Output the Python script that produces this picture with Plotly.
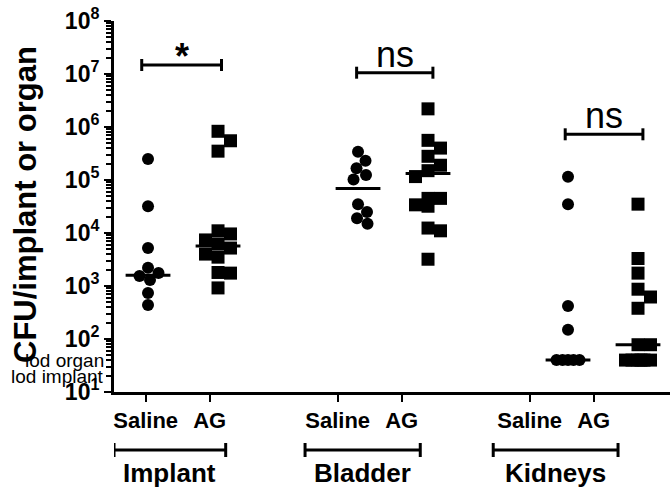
import numpy as np
import plotly.graph_objects as go

# ---------------- data ----------------
groups = ["Implant", "Bladder", "Kidneys"]
treatments = ["Saline", "AG"]

implant_saline = [250000, 32000, 5200, 2200, 1760, 1550, 1300, 740, 440]
implant_ag = [830000, 550000, 350000, 11000, 9600, 7400, 6200, 5200, 4000, 3500, 1800, 1750, 920]
bladder_saline = [340000, 230000, 166000, 124000, 102000, 35000, 25000, 19000, 15000]
bladder_ag = [2200000, 560000, 400000, 280000, 190000, 150000, 116000, 45000, 45000,
              34000, 32000, 12400, 11000, 3200]
kidneys_saline = [115000, 35000, 420, 150, 40, 40, 40, 40, 40]
kidneys_ag = [35000, 3300, 1750, 870, 620, 380, 78, 78, 40, 40, 40, 40, 40, 40]

center_lines = [1600, 5700, 69000, 132000, 40, 78]
lod_organ = 40
lod_implant = 20
significance = ["*", "ns", "ns"]
y_tick_exponents = [1, 2, 3, 4, 5, 6, 7, 8]

series = [implant_saline, implant_ag, bladder_saline, bladder_ag, kidneys_saline, kidneys_ag]

# ---------------- layout constants ----------------
W, H = 670, 491
ML, MR, MT, MB = 114, 0, 21, 99
PW, PH = W - ML - MR, H - MT - MB
XRANGE = [0.514, 8.457]          # data axis (points)
X2RANGE = [0.505, 9.192]         # category label axis
YRANGE = [1, 8]
PX_PER_X = PW / (XRANGE[1] - XRANGE[0])
PX_PER_DEC = PH / (YRANGE[1] - YRANGE[0])
positions = [1, 2, 4, 5, 7, 8]
FONT = "Arial, Liberation Sans, sans-serif"


def swarm(values, size, square, max_half=14.0):
    """Simple beeswarm: returns horizontal offsets in pixels."""
    ys = np.log10(np.asarray(values, dtype=float)) * PX_PER_DEC
    order = np.argsort(-ys, kind="stable")
    cands = sorted(np.arange(-max_half, max_half + 0.25, 0.5), key=lambda c: (abs(c), -c))
    placed = []
    offs = np.zeros(len(ys))
    for i in order:
        best_c, best_s = 0.0, -1.0
        chosen = None
        for c in cands:
            s = np.inf
            for (px, py) in placed:
                dx, dy = abs(c - px), abs(ys[i] - py)
                d = max(dx, dy) if square else np.hypot(dx, dy)
                s = min(s, d)
            if s >= size - 0.5:
                chosen = c
                break
            if s > best_s:
                best_s, best_c = s, c
        if chosen is None:
            chosen = best_c
        offs[i] = chosen
        placed.append((chosen, ys[i]))
    return offs


fig = go.Figure()

# center (median) lines
for p, m in zip(positions, center_lines):
    fig.add_trace(go.Scatter(x=[p - 0.32, p + 0.32], y=[m, m], mode="lines",
                             line=dict(color="black", width=3), showlegend=False,
                             hoverinfo="skip"))

for k, (vals, p) in enumerate(zip(series, positions)):
    square = (k % 2 == 1)
    size = 13 if square else 12
    offs = swarm(vals, size, square)
    fig.add_trace(go.Scatter(
        x=p + offs / PX_PER_X, y=vals, mode="markers",
        marker=dict(symbol="square" if square else "circle", size=size, color="black",
                    line=dict(width=0)),
        showlegend=False, name=f"{groups[k // 2]} {treatments[k % 2]}"))

# invisible trace on x2 so the axis renders
fig.add_trace(go.Scatter(x=[positions[0]], y=[10], xaxis="x2", mode="markers",
                         marker=dict(opacity=0), showlegend=False, hoverinfo="skip"))

shapes = []
annotations = []

# lod lines
for val, dash in [(lod_organ, "6px,3px,2px,3px"), (lod_implant, "3px,2px")]:
    ly = np.log10(val)
    shapes.append(dict(type="line", xref="paper", yref="y", x0=0, x1=1, y0=ly, y1=ly,
                       line=dict(color="black", width=1.5, dash=dash), layer="below"))
    shapes.append(dict(type="line", xref="paper", yref="y", x0=-7 / PW, x1=7 / PW, y0=ly, y1=ly,
                       line=dict(color="black", width=2)))
annotations.append(dict(text="lod organ", xref="paper", yref="y", x=-8 / PW, y=np.log10(lod_organ),
                        xanchor="right", yanchor="middle", showarrow=False,
                        font=dict(family=FONT, size=19, color="black")))
annotations.append(dict(text="lod implant", xref="paper", yref="y", x=-8 / PW, y=np.log10(lod_implant),
                        xanchor="right", yanchor="middle", showarrow=False,
                        font=dict(family=FONT, size=19, color="black")))

# significance brackets
sig_x = [(0.91, 2.05), (3.98, 5.07), (6.96, 8.07)]
sig_ypx = [65, 72.7, 134.3]
for (x0, x1), ypx, txt in zip(sig_x, sig_ypx, significance):
    yp = (H - MB - ypx) / PH
    cap = 6 / PH
    shapes.append(dict(type="line", xref="x", yref="paper", x0=x0, x1=x1, y0=yp, y1=yp,
                       line=dict(color="black", width=3)))
    for xx in (x0, x1):
        shapes.append(dict(type="line", xref="x", yref="paper", x0=xx, x1=xx, y0=yp - cap, y1=yp + cap,
                           line=dict(color="black", width=3)))
    if txt == "*":
        annotations.append(dict(text="<b>*</b>", xref="x", yref="paper", x=(x0 + x1) / 2, y=yp,
                                xanchor="center", yanchor="bottom", yshift=-14, showarrow=False,
                                font=dict(family=FONT, size=36, color="black")))
    else:
        annotations.append(dict(text=txt, xref="x", yref="paper", x=(x0 + x1) / 2, y=yp,
                                xanchor="center", yanchor="bottom", yshift=-4, showarrow=False,
                                font=dict(family=FONT, size=36, color="black")))

# group brackets below the axis
grp_x = [(0.505, 2.25), (3.49, 5.29), (6.43, 8.38)]
gy = (H - MB - 450) / PH
gcap = 7 / PH
for (x0, x1), g in zip(grp_x, groups):
    shapes.append(dict(type="line", xref="x2", yref="paper", x0=x0, x1=x1, y0=gy, y1=gy,
                       line=dict(color="black", width=3)))
    for xx in (x0, x1):
        shapes.append(dict(type="line", xref="x2", yref="paper", x0=xx, x1=xx, y0=gy - gcap, y1=gy + gcap,
                           line=dict(color="black", width=3)))
    annotations.append(dict(text=f"<b>{g}</b>", xref="x2", yref="paper", x=(x0 + x1) / 2,
                            y=(H - MB - 473) / PH, xanchor="center", yanchor="middle", showarrow=False,
                            font=dict(family=FONT, size=26, color="black")))

# y title
annotations.append(dict(text="<b>CFU/implant or organ</b>", xref="paper", yref="paper",
                        x=(25 - ML) / PW, y=(H - MB - 205) / PH, textangle=-90,
                        xanchor="center", yanchor="middle", showarrow=False,
                        font=dict(family=FONT, size=31, color="black")))

minor_vals = [k * 10 ** d for d in range(1, 8) for k in range(2, 10)]

fig.update_layout(
    width=W, height=H, margin=dict(l=ML, r=MR, t=MT, b=MB, autoexpand=False),
    paper_bgcolor="white", plot_bgcolor="white",
    shapes=shapes, annotations=annotations,
    xaxis=dict(range=XRANGE, showgrid=False, zeroline=False, showline=True, linewidth=3,
               linecolor="black", ticks="", showticklabels=False, fixedrange=True),
    xaxis2=dict(range=X2RANGE, overlaying="x", anchor="y", side="bottom", showgrid=False,
                zeroline=False, showline=False, ticks="outside", ticklen=9, tickwidth=2,
                tickcolor="black", tickmode="array", tickvals=positions,
                ticktext=[f"<b>{t}</b>" for _ in groups for t in treatments],
                tickfont=dict(family=FONT, size=22, color="black")),
    yaxis=dict(type="log", range=YRANGE, showgrid=False, zeroline=False, showline=True,
               linewidth=3, linecolor="black", ticks="outside", ticklen=7, tickwidth=2,
               tickcolor="black", tickmode="array",
               tickvals=[10 ** e for e in y_tick_exponents],
               ticktext=[f"<b>10<sup>{e}</sup></b>" for e in y_tick_exponents],
               tickfont=dict(family=FONT, size=23, color="black"),
               minor=dict(ticks="outside", ticklen=5, tickwidth=1.5, tickcolor="black",
                          tickmode="array", tickvals=minor_vals)),
)

fig.write_html("out.html", config={"displayModeBar": False},
               post_script="document.body.style.margin='0';document.body.style.padding='0';")
